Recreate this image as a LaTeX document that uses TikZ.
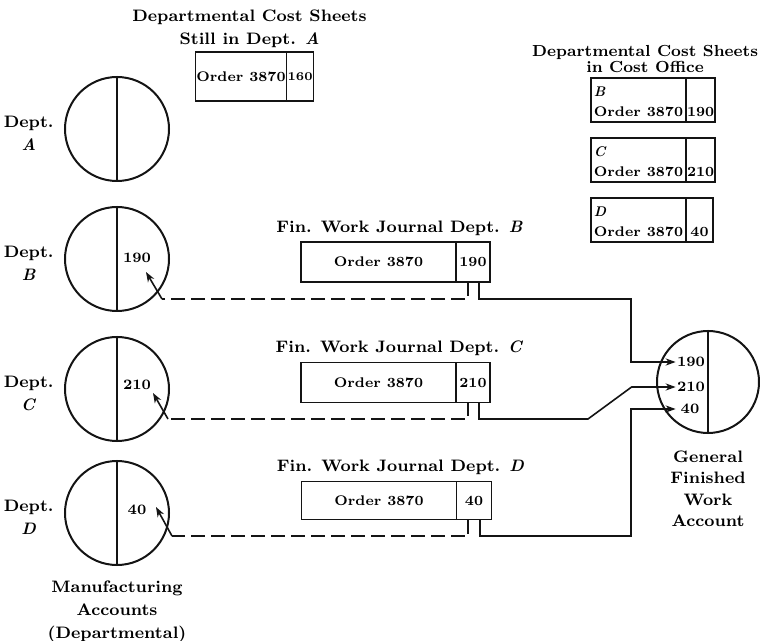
\documentclass[tikz,border=0pt]{standalone}
\usepackage{tikz}
\usetikzlibrary{arrows.meta,positioning,calc}
\definecolor{Ink}{HTML}{141414}
\tikzset{
  acct/.style={draw=Ink,circle,line width=1pt,minimum size=52pt,inner sep=0pt},
  sheet/.style={draw=Ink,line width=0.75pt,minimum height=20pt,inner sep=0.5pt,outer sep=0pt,font=\fontsize{7}{10}\selectfont\bfseries},
  lbl/.style={font=\fontsize{8.3}{11.5}\selectfont\bfseries,align=center,inner sep=0pt},
  num/.style={font=\fontsize{7.2}{9}\selectfont\bfseries,inner sep=0.5pt},
  link/.style={line width=0.8pt,draw=Ink},
  trace/.style={line width=0.8pt,draw=Ink,dash pattern=on 7pt off 3pt},
  arr/.style={-{Stealth[length=5pt,width=3.6pt]},line width=0.8pt,draw=Ink},
}
\begin{document}
\begin{tikzpicture}[x=0.5pt,y=-0.5pt,node distance=8pt and 5pt]
 \useasboundingbox (0,0) rectangle (760,641);
 % manufacturing accounts
 \node[acct] (mA) at (117,129) {};
 \node[acct] (mB) at (117,259) {};
 \node[acct] (mC) at (117,389) {};
 \node[acct] (mD) at (117,513) {};
 \foreach \d in {A,B,C,D}{
   \draw[link] (m\d.north) -- (m\d.south);
   \node[lbl,left=5pt of m\d,yshift=-2pt] (d\d) {Dept.\\\textit{\d}};
 }
 \node[num] (nB) at ($(mB)+(20,-1)$) {190};
 \node[num] (nC) at ($(mC)+(20,-4)$) {210};
 \node[num] (nD) at ($(mD)+(20,-3)$) {40};
 \node[lbl,below=7pt of mD] (mLab) {Manufacturing\\Accounts\\(Departmental)};
 % cost sheet still in dept. A
 \node[sheet,minimum width=44pt,minimum height=24.5pt] (sA) at (241,76.5) {Order 3870};
 \node[sheet,minimum width=11.5pt,minimum height=24.5pt,right=0pt of sA,font=\fontsize{6}{8}\selectfont\bfseries] (sAv) {160};
 \node[lbl,anchor=south] (hA) at ($(sA.north west)!0.5!(sAv.north east)+(-5,-4)$) {Departmental Cost Sheets\\Still in Dept. \textit{A}};
 % cost sheets in cost office
 \node[sheet,minimum width=47.5pt,minimum height=22pt,align=left] (cB) at (638.5,100) {\strut\textit{B}\\Order 3870};
 \node[sheet,minimum width=13.5pt,minimum height=22pt,right=0pt of cB,align=center] (cBv) {\strut\\190};
 \node[sheet,minimum width=47.5pt,minimum height=22pt,align=left,below=of cB] (cC) {\strut\textit{C}\\Order 3870};
 \node[sheet,minimum width=13.5pt,minimum height=22pt,right=0pt of cC,align=center] (cCv) {\strut\\210};
 \node[sheet,minimum width=47.5pt,minimum height=22pt,align=left,below=of cC] (cD) {\strut\textit{D}\\Order 3870};
 \node[sheet,minimum width=13.5pt,minimum height=22pt,right=0pt of cD,align=center] (cDv) {\strut\\40};
 \node[lbl,anchor=south,font=\fontsize{8}{8}\selectfont\bfseries] (hO) at ($(cB.north west)!0.5!(cBv.north east)+(-8,-5)$) {Departmental Cost Sheets\\in Cost Office};
 % finished work journals
 \node[sheet,minimum width=77.5pt] (jB) at (378.5,262) {Order 3870};
 \node[sheet,minimum width=17pt,right=0pt of jB] (jBv) {190};
 \node[sheet,minimum width=77.5pt] (jC) at (378.5,382.5) {Order 3870};
 \node[sheet,minimum width=17pt,right=0pt of jC] (jCv) {210};
 \node[sheet,minimum width=77.5pt,minimum height=19pt] (jD) at (379,500.5) {Order 3870};
 \node[sheet,minimum width=17.5pt,minimum height=19pt,right=0pt of jD] (jDv) {40};
 \node[lbl,anchor=south] (hB) at ($(jB.north west)!0.5!(jBv.north east)+(4,-6)$) {Fin. Work Journal Dept. \textit{B}};
 \node[lbl,anchor=south] (hC) at ($(jC.north west)!0.5!(jCv.north east)+(4,-6)$) {Fin. Work Journal Dept. \textit{C}};
 \node[lbl,anchor=south] (hD) at ($(jD.north west)!0.5!(jDv.north east)+(4,-6)$) {Fin. Work Journal Dept. \textit{D}};
 % general finished work account
 \node[acct,minimum size=51pt] (gen) at (708,382) {};
 \draw[link] (gen.north) -- (gen.south);
 \node[num,text width=13pt,align=center] (gB) at (690,362) {190};
 \node[num,text width=13pt,align=center] (gC) at (690,387) {210};
 \node[num,text width=13pt,align=center] (gD) at (690,409) {40};
 \node[lbl,below=8pt of gen,font=\fontsize{8.3}{10.75}\selectfont\bfseries] (genLab) {General\\Finished\\Work\\Account};
 % postings
 \coordinate (eB) at ($(mB)+(45,40)$);
 \coordinate (eC) at ($(mC)+(51,30)$);
 \coordinate (eD) at ($(mD)+(55,23)$);
 \draw[trace] ([xshift=-2.5pt]jBv.south) |- (eB);
 \draw[trace] ([xshift=-2.5pt]jCv.south) |- (eC);
 \draw[trace] ([xshift=-3pt]jDv.south) |- (eD);
 \draw[arr] (eB) -- ++(-16,-27);
 \draw[arr] (eC) -- ++(-15,-26);
 \draw[arr] (eD) -- ++(-16,-29);
 \draw[arr] ([xshift=3pt]jBv.south) |- ($(eB)+(469,0)$) |- (gB.west);
 \draw[arr] ([xshift=3pt]jCv.south) |- ($(eC)+(420,0)$) -- ($(gC.west)+(-44,0)$) -- (gC.west);
 \draw[arr] ([xshift=3pt]jDv.south) |- ($(eD)+(459,0)$) |- (gD.west);
\end{tikzpicture}
\end{document}
